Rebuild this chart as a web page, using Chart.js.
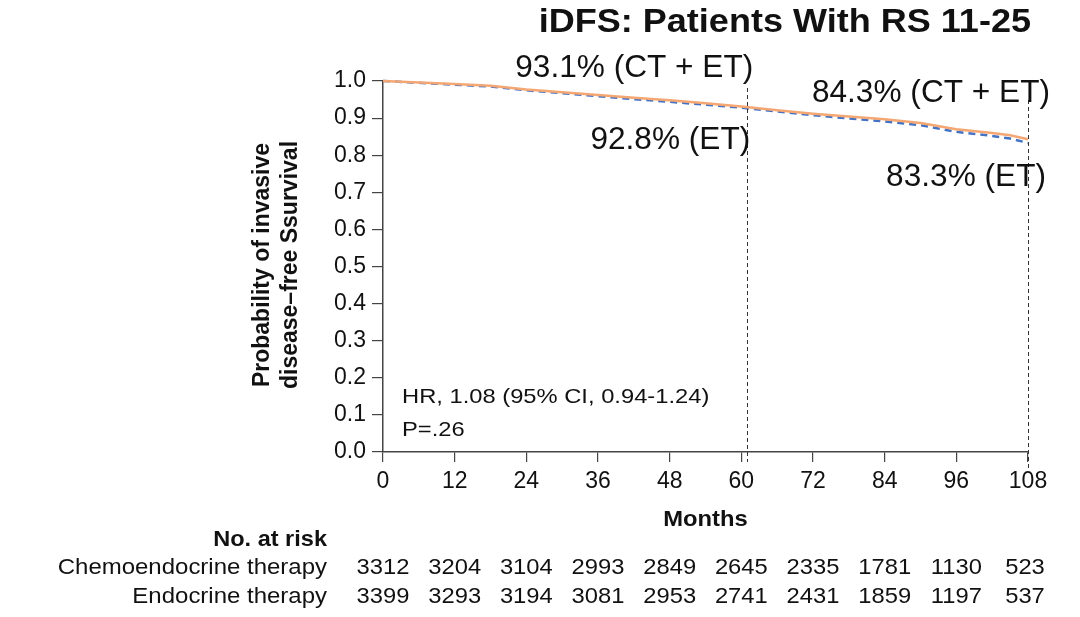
<!DOCTYPE html>
<html>
<head>
<meta charset="utf-8">
<script src="https://cdn.jsdelivr.net/npm/chart.js@4/dist/chart.umd.min.js"></script>
<style>
  html, body { margin: 0; padding: 0; background: #fff; }
  #wrap { width: 1080px; height: 617px; }
</style>
</head>
<body>
<div id="wrap"><canvas id="myChart" width="1080" height="617"></canvas></div>
<script>
// values
var months = [0, 6, 12, 18, 24, 30, 36, 42, 48, 54, 60, 66, 72, 78, 84, 90, 96, 102, 105, 108];
var ctEt = [1.000, 0.996, 0.992, 0.987, 0.977, 0.970, 0.962, 0.955, 0.948, 0.940, 0.931, 0.921, 0.912, 0.904, 0.897, 0.887, 0.870, 0.860, 0.854, 0.843];
var et   = [1.000, 0.995, 0.990, 0.985, 0.975, 0.967, 0.959, 0.951, 0.944, 0.936, 0.928, 0.918, 0.908, 0.899, 0.891, 0.881, 0.863, 0.852, 0.845, 0.833];
var xTicks = [0, 12, 24, 36, 48, 60, 72, 84, 96, 108];
var riskCT = [3312, 3204, 3104, 2993, 2849, 2645, 2335, 1781, 1130, 523];
var riskET = [3399, 3293, 3194, 3081, 2953, 2741, 2431, 1859, 1197, 537];
var landmarks = [61, 108];
var landmarkLabels = [["93.1% (CT + ET)", "92.8% (ET)"], ["84.3% (CT + ET)", "83.3% (ET)"]];

var FONT = "'Liberation Sans', Arial, sans-serif";

function pts(xs, ys) {
    var out = [];
    for (var i = 0; i < xs.length; i++) out.push({x: xs[i], y: ys[i]});
    return out;
}

// draw text with a small horizontal stretch, like the source picture
function txt(ctx, s, x, y, size, bold, align, sx) {
    ctx.save();
    ctx.font = (bold ? "bold " : "") + size + "px " + FONT;
    ctx.textBaseline = "middle";
    ctx.fillStyle = "#111";
    var w = ctx.measureText(s).width * sx;
    var left = align === "right" ? x - w : (align === "center" ? x - w / 2 : x);
    ctx.translate(left, y);
    ctx.scale(sx, 1);
    ctx.textAlign = "left";
    ctx.fillText(s, 0, 0);
    ctx.restore();
}

var extras = {
    id: "extras",
    afterDraw: function(chart) {
        var ctx = chart.ctx, xs = chart.scales.x;
        var area = chart.chartArea;

        // title
        txt(ctx, "iDFS: Patients With RS 11-25", 1031, 23, 34, true, "right", 1.06);

        // y axis title, two lines rotated
        ctx.save();
        ctx.translate(263, 265);
        ctx.rotate(-Math.PI / 2);
        ctx.font = "bold 23px " + FONT;
        ctx.textAlign = "center";
        ctx.textBaseline = "middle";
        ctx.fillStyle = "#111";
        ctx.fillText("Probability of invasive", 0, 0);
        ctx.fillText("disease\u2013free Ssurvival", 0, 28);
        ctx.restore();

        // landmark dashed lines + labels
        var tops = [88, 100], bottoms = [area.bottom + 10, area.bottom + 18];
        var labelY = [[68, 140], [93, 177]];
        var labelDx = [[6, 3], [22, 18]];
        ctx.save();
        ctx.strokeStyle = "#333";
        ctx.lineWidth = 1;
        ctx.setLineDash([4, 3]);
        for (var i = 0; i < landmarks.length; i++) {
            var lx = Math.round(xs.getPixelForValue(landmarks[i])) + 0.5;
            ctx.beginPath();
            ctx.moveTo(lx, tops[i]);
            ctx.lineTo(lx, bottoms[i]);
            ctx.stroke();
        }
        ctx.restore();
        for (var i = 0; i < landmarks.length; i++) {
            var lx = xs.getPixelForValue(landmarks[i]);
            txt(ctx, landmarkLabels[i][0], lx + labelDx[i][0], labelY[i][0], 31, false, "right", 1.02);
            txt(ctx, landmarkLabels[i][1], lx + labelDx[i][1], labelY[i][1], 31, false, "right", 1.02);
        }

        // stats box text
        txt(ctx, "HR, 1.08 (95% CI, 0.94-1.24)", 402, 397, 21, false, "left", 1.13);
        txt(ctx, "P=.26", 402, 430, 21, false, "left", 1.13);

        // x title and at-risk table
        txt(ctx, "Months", (area.left + area.right) / 2, 520, 22, true, "center", 1.08);
        txt(ctx, "No. at risk", 327, 540, 22, true, "right", 1.07);
        txt(ctx, "Chemoendocrine therapy", 327, 568, 22, false, "right", 1.09);
        txt(ctx, "Endocrine therapy", 327, 597, 22, false, "right", 1.09);
        for (var j = 0; j < xTicks.length; j++) {
            var tx = xs.getPixelForValue(xTicks[j]);
            if (j === xTicks.length - 1) tx -= 3;
            txt(ctx, String(riskCT[j]), tx, 568, 22, false, "center", 1.08);
            txt(ctx, String(riskET[j]), tx, 597, 22, false, "center", 1.08);
        }
    }
};

function main() {
    var ctx = document.getElementById("myChart").getContext("2d");
    var chart = new Chart(ctx, {
        type: "line",
        data: {
            datasets: [{
                label: "CT + ET",
                data: pts(months, ctEt),
                borderColor: "#F4A772",
                borderWidth: 2.5,
                pointRadius: 0,
                tension: 0,
                clip: false,
                fill: false
            }, {
                label: "ET",
                data: pts(months, et),
                borderColor: "#4472C4",
                borderWidth: 2.5,
                borderDash: [7, 5],
                pointRadius: 0,
                tension: 0,
                clip: false,
                fill: false
            }]
        },
        options: {
            responsive: false,
            animation: false,
            layout: { padding: { left: 283, right: 52, top: 81, bottom: 0 } },
            plugins: { legend: { display: false }, tooltip: { enabled: false }, title: { display: false } },
            scales: {
                x: {
                    type: "linear",
                    min: 0, max: 108,
                    afterFit: function(s) { s.height = 165; },
                    afterBuildTicks: function(s) { s.ticks = xTicks.map(function(v) { return {value: v}; }); },
                    ticks: { color: "#111", font: { family: FONT, size: 23 }, padding: 6, maxRotation: 0 },
                    grid: { display: true, drawOnChartArea: false, drawTicks: true, tickLength: 10, color: "#444", lineWidth: 1.2 },
                    border: { display: true, color: "#444", width: 1.5 }
                },
                y: {
                    min: 0, max: 1,
                    afterFit: function(s) { s.width = 100; },
                    ticks: { stepSize: 0.1, color: "#111", font: { family: FONT, size: 23 }, padding: 6,
                        callback: function(v) { return v.toFixed(1); } },
                    grid: { display: true, drawOnChartArea: false, drawTicks: true, tickLength: 11, color: "#444", lineWidth: 1.2 },
                    border: { display: true, color: "#444", width: 1.5 }
                }
            }
        },
        plugins: [extras]
    });
}

document.addEventListener("DOMContentLoaded", function(event) {
    main();
});
</script>
</body>
</html>
